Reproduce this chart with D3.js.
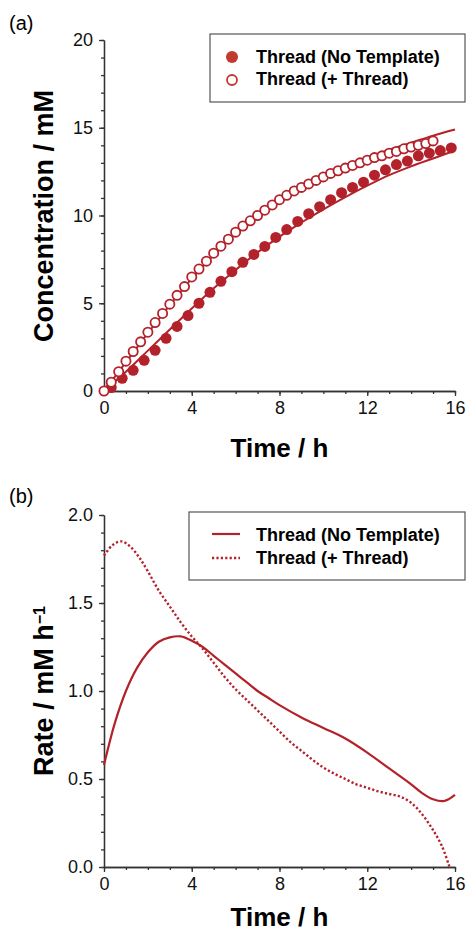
<!DOCTYPE html>
<html>
<head>
<meta charset="utf-8">
<script src="https://cdn.jsdelivr.net/npm/d3@7"></script>
<style>
  body { margin: 0; background: #fff; }
  text { font-family: "Liberation Sans", Arial, Helvetica, sans-serif; }
  .axis path, .axis line { stroke: #333; stroke-width: 1.3; }
  .axis text { fill: #111; font-size: 18px; }
</style>
</head>
<body>
<div id="chart"></div>
<script>
// panel (a): concentration vs time
var filledTime = [0.33, 0.83, 1.33, 1.83, 2.33, 2.83, 3.33, 3.83, 4.33, 4.83, 5.33, 5.83,
    6.33, 6.83, 7.33, 7.83, 8.33, 8.83, 9.33, 9.83, 10.33, 10.83, 11.33, 11.83,
    12.33, 12.83, 13.33, 13.83, 14.33, 14.83, 15.33, 15.83];
var filledConc = [0.2, 0.72, 1.18, 1.75, 2.32, 3.0, 3.68, 4.3, 5.0, 5.62, 6.25, 6.8,
    7.33, 7.78, 8.24, 8.75, 9.2, 9.66, 10.1, 10.5, 10.9, 11.3, 11.6, 11.9,
    12.3, 12.6, 12.9, 13.1, 13.4, 13.55, 13.7, 13.85];

var openTime = [0, 0.33, 0.67, 1, 1.33, 1.67, 2, 2.33, 2.67, 3, 3.33, 3.67, 4, 4.33, 4.67,
    5, 5.33, 5.67, 6, 6.33, 6.67, 7, 7.33, 7.67, 8, 8.33, 8.67, 9, 9.33, 9.67,
    10, 10.33, 10.67, 11, 11.33, 11.67, 12, 12.33, 12.67, 13, 13.33, 13.67, 14, 14.33, 14.67, 15];
var openConc = [0, 0.5, 1.1, 1.7, 2.25, 2.8, 3.35, 3.9, 4.42, 4.95, 5.45, 5.95, 6.5, 6.95, 7.4,
    7.85, 8.25, 8.65, 9.05, 9.4, 9.7, 10.0, 10.3, 10.6, 10.9, 11.15, 11.4, 11.6, 11.8, 12.0,
    12.2, 12.4, 12.55, 12.7, 12.85, 13.0, 13.15, 13.3, 13.4, 13.55, 13.65, 13.8, 13.9, 14.0, 14.1, 14.25];

var fitTime = [0, 1, 2, 3, 4, 5, 6, 7, 8, 9, 10, 11, 12, 13, 14, 15, 16];
var fitFilled = [0, 1.1, 2.3, 3.5, 4.7, 5.85, 6.9, 7.9, 8.8, 9.6, 10.35, 11.05, 11.7, 12.3, 12.8, 13.25, 13.7];
var fitOpen = [0, 1.65, 3.3, 4.9, 6.4, 7.75, 8.95, 10.0, 10.9, 11.65, 12.3, 12.85, 13.3, 13.75, 14.15, 14.55, 14.9];

// panel (b): rate vs time
var rateTimeA = [0, 0.5, 1, 1.5, 2, 2.5, 3, 3.5, 4, 4.5, 5, 5.5, 6, 6.5, 7, 7.5, 8, 9, 10, 11, 12, 13, 14, 14.5, 15, 15.5, 16];
var rateA = [0.58, 0.82, 1.0, 1.13, 1.22, 1.28, 1.305, 1.31, 1.285, 1.25, 1.2, 1.15, 1.1, 1.05, 1.0, 0.96, 0.92,
    0.85, 0.79, 0.73, 0.65, 0.56, 0.47, 0.42, 0.385, 0.375, 0.41];
var rateTimeB = [0, 0.4, 0.8, 1.2, 1.6, 2, 2.5, 3, 3.5, 4, 4.5, 5, 5.5, 6, 6.5, 7, 7.5, 8, 8.5, 9, 9.5,
    10, 10.5, 11, 11.5, 12, 12.5, 13, 13.5, 14, 14.5, 15, 15.4, 15.75];
var rateB = [1.77, 1.83, 1.85, 1.82, 1.76, 1.68, 1.57, 1.48, 1.39, 1.31, 1.24, 1.16, 1.08, 1.01, 0.95, 0.89,
    0.83, 0.77, 0.71, 0.66, 0.61, 0.565, 0.53, 0.5, 0.47, 0.45, 0.43, 0.415, 0.40, 0.365, 0.3, 0.21, 0.12, 0.0];

var seriesNames = ['Thread (No Template)', 'Thread (+ Thread)'];
var xTicks = [0, 4, 8, 12, 16];

var red = '#b3222a';
var legendRed = '#c23a2e';

var W = 468, H = 932;
var svg = d3.select('#chart').append('svg')
    .attr('width', W).attr('height', H);

var x = d3.scaleLinear().domain([0, 16]).range([104, 455]);
var yA = d3.scaleLinear().domain([0, 20]).range([391, 40]);
var yB = d3.scaleLinear().domain([0, 2]).range([867, 515]);

function drawAxes(y, yBase, yMajor, yMinor, fmt) {
    // minor ticks
    svg.append('g').attr('class', 'axis')
        .attr('transform', 'translate(0,' + yBase + ')')
        .call(d3.axisBottom(x).tickValues(d3.range(0, 17, 1)).tickSize(3).tickSizeOuter(0).tickFormat(''));
    svg.append('g').attr('class', 'axis')
        .attr('transform', 'translate(' + x(0) + ',0)')
        .call(d3.axisLeft(y).tickValues(yMinor).tickSize(3).tickSizeOuter(0).tickFormat(''));
    // major ticks
    svg.append('g').attr('class', 'axis')
        .attr('transform', 'translate(0,' + yBase + ')')
        .call(d3.axisBottom(x).tickValues(xTicks).tickSize(5).tickSizeOuter(0).tickPadding(5));
    svg.append('g').attr('class', 'axis')
        .attr('transform', 'translate(' + x(0) + ',0)')
        .call(d3.axisLeft(y).tickValues(yMajor).tickSize(5).tickSizeOuter(0).tickPadding(6).tickFormat(fmt));
}

drawAxes(yA, 391, [0, 5, 10, 15, 20], d3.range(0, 21, 1), d3.format('d'));
drawAxes(yB, 867, [0, 0.5, 1.0, 1.5, 2.0], d3.range(0, 21, 1).map(function(d) { return d / 10; }), d3.format('.1f'));

// panel labels
svg.append('text').attr('x', 9).attr('y', 30).style('font-size', '20px').text('(a)');
svg.append('text').attr('x', 9).attr('y', 503).style('font-size', '20px').text('(b)');

// axis titles
function xTitle(yPos) {
    svg.append('text')
        .attr('x', (x(0) + x(16)) / 2).attr('y', yPos)
        .attr('text-anchor', 'middle')
        .style('font-size', '26px').style('font-weight', 'bold')
        .text('Time / h');
}
xTitle(457);
xTitle(926);

svg.append('text')
    .attr('transform', 'translate(53,' + 216 + ') rotate(-90)')
    .attr('text-anchor', 'middle')
    .style('font-size', '27px').style('font-weight', 'bold')
    .text('Concentration / mM');

var rateLabel = svg.append('text')
    .attr('transform', 'translate(53,' + 691 + ') rotate(-90)')
    .attr('text-anchor', 'middle')
    .style('font-size', '27px').style('font-weight', 'bold');
rateLabel.append('tspan').text('Rate / mM h');
rateLabel.append('tspan').attr('dy', '-0.5em').style('font-size', '16px').text('\u22121');

// panel (a) fit lines
var lineA = d3.line()
    .x(function(d) { return x(d[0]); })
    .y(function(d) { return yA(d[1]); })
    .curve(d3.curveMonotoneX);

svg.append('path')
    .datum(d3.zip(fitTime, fitFilled))
    .attr('d', lineA)
    .attr('fill', 'none').attr('stroke', red).attr('stroke-width', 2);
svg.append('path')
    .datum(d3.zip(fitTime, fitOpen))
    .attr('d', lineA)
    .attr('fill', 'none').attr('stroke', red).attr('stroke-width', 2);

// data points
svg.selectAll('.filled')
    .data(d3.zip(filledTime, filledConc))
    .enter().append('circle')
    .attr('class', 'filled')
    .attr('cx', function(d) { return x(d[0]); })
    .attr('cy', function(d) { return yA(d[1]); })
    .attr('r', 5.5)
    .attr('fill', red);

svg.selectAll('.open')
    .data(d3.zip(openTime, openConc))
    .enter().append('circle')
    .attr('class', 'open')
    .attr('cx', function(d) { return x(d[0]); })
    .attr('cy', function(d) { return yA(d[1]); })
    .attr('r', 4.6)
    .attr('fill', 'white')
    .attr('stroke', red)
    .attr('stroke-width', 1.8);

// legend (a)
svg.append('rect')
    .attr('x', 210).attr('y', 34).attr('width', 255).attr('height', 68)
    .attr('fill', 'white').attr('stroke', '#555').attr('stroke-width', 1.2);
svg.append('circle').attr('cx', 232).attr('cy', 57).attr('r', 6).attr('fill', legendRed);
svg.append('circle').attr('cx', 232).attr('cy', 80).attr('r', 5).attr('fill', 'white')
    .attr('stroke', legendRed).attr('stroke-width', 1.8);
seriesNames.forEach(function(name, i) {
    svg.append('text')
        .attr('x', 256).attr('y', 63 + i * 22)
        .style('font-size', '18px').style('font-weight', 'bold')
        .text(name);
});

// panel (b) rate curves
var lineB = d3.line()
    .x(function(d) { return x(d[0]); })
    .y(function(d) { return yB(d[1]); })
    .curve(d3.curveCatmullRom.alpha(0.5));

svg.append('path')
    .datum(d3.zip(rateTimeA, rateA))
    .attr('d', lineB)
    .attr('fill', 'none').attr('stroke', red).attr('stroke-width', 2.2);
svg.append('path')
    .datum(d3.zip(rateTimeB, rateB))
    .attr('d', lineB)
    .attr('fill', 'none').attr('stroke', red).attr('stroke-width', 2.4)
    .attr('stroke-dasharray', '2.2,2.2');

// legend (b)
svg.append('rect')
    .attr('x', 189).attr('y', 512).attr('width', 276).attr('height', 68)
    .attr('fill', 'white').attr('stroke', '#555').attr('stroke-width', 1.2);
svg.append('line').attr('x1', 212).attr('x2', 240).attr('y1', 534).attr('y2', 534)
    .attr('stroke', red).attr('stroke-width', 2.2);
svg.append('line').attr('x1', 212).attr('x2', 240).attr('y1', 558).attr('y2', 558)
    .attr('stroke', red).attr('stroke-width', 2.4).attr('stroke-dasharray', '2.2,2.2');
seriesNames.forEach(function(name, i) {
    svg.append('text')
        .attr('x', 256).attr('y', 541 + i * 23)
        .style('font-size', '18px').style('font-weight', 'bold')
        .text(name);
});
</script>
</body>
</html>
